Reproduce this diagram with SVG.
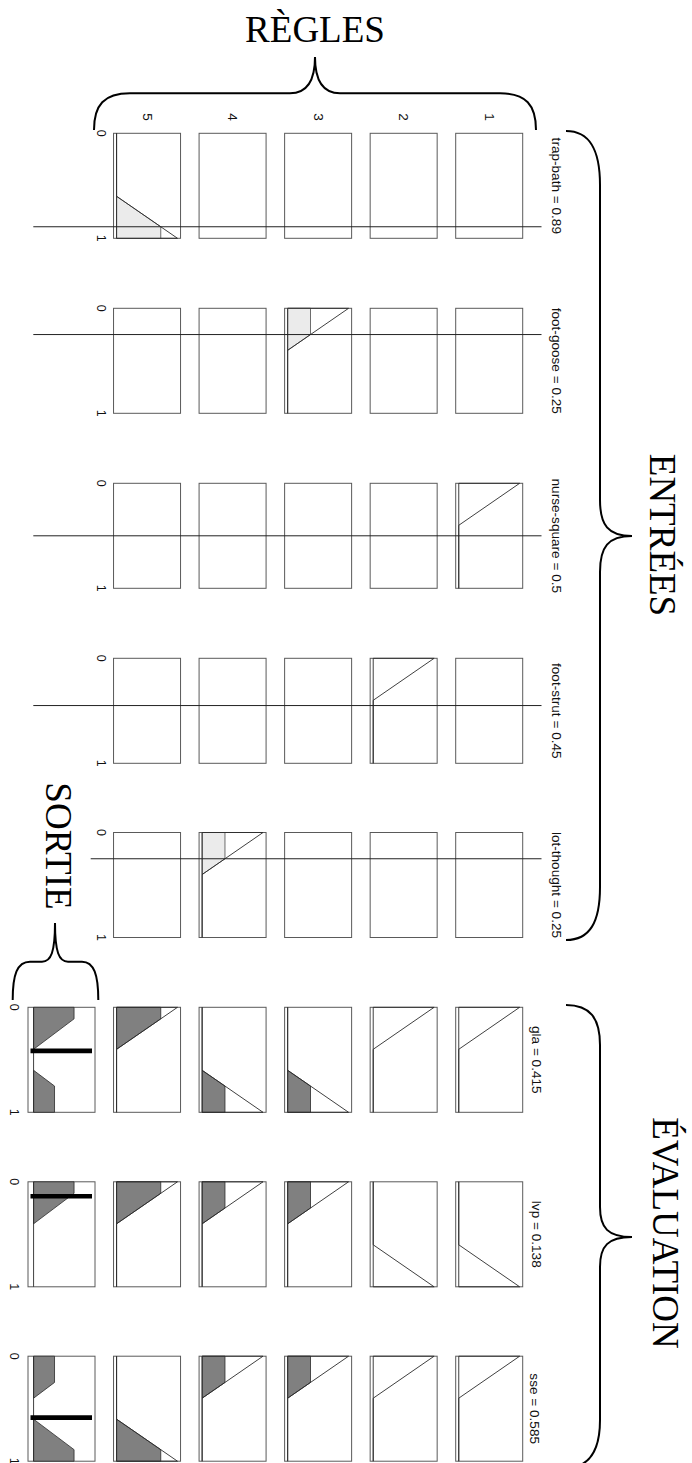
<svg xmlns="http://www.w3.org/2000/svg" width="692" height="1463" viewBox="0 0 692 1463">
<style>
.bg{fill:#fff}
.box{fill:#fff;stroke:#5a5a5a;stroke-width:1}
.mf{fill:none;stroke:#2a2a2a;stroke-width:0.9;stroke-linejoin:miter}
.fin{fill:#ebebeb;stroke:#4a4a4a;stroke-width:0.8}
.fout{fill:#808080;stroke:#2a2a2a;stroke-width:0.8}
.inl{stroke:#222;stroke-width:1;fill:none}
.bar{stroke:#000;stroke-width:4.6;fill:none}
.brace{fill:none;stroke:#000;stroke-width:2}
.lbl{font-family:"Liberation Sans",Arial,sans-serif;font-size:13.6px;fill:#111;text-anchor:middle;dominant-baseline:central}
.tick{font-family:"Liberation Sans",Arial,sans-serif;font-size:12.5px;fill:#111;text-anchor:middle;dominant-baseline:central}
.title{font-family:"Liberation Serif","Times New Roman",serif;font-size:37px;fill:#000;text-anchor:middle}
.rtitle{font-family:"Liberation Serif","Times New Roman",serif;font-size:37px;fill:#000;text-anchor:middle;dominant-baseline:central}
</style>
<rect class="bg" x="0" y="0" width="692" height="1463"/>

<!-- Titles and braces -->
<g id="titles">
  <text class="title" x="315" y="41.7">RÈGLES</text>
  <text class="rtitle" transform="rotate(90 662 535)" x="662" y="535">ENTRÉES</text>
  <text class="rtitle" transform="rotate(90 665 1233)" x="665" y="1233">ÉVALUATION</text>
  <text class="rtitle" transform="rotate(90 58 846)" x="58" y="846">SORTIE</text>
</g>
<g id="braces">
  <path class="brace" d="M94,130 C94,105 104,93.3 130,93.3 L290,93.3 C306,93.3 315,83 315,57 C315,83 324,93.3 340,93.3 L500,93.3 C526,93.3 536,105 536,130"/>
  <path class="brace" d="M566,131 C590,131 600,150 600,185 L600,500 C600,525 608,536 632,536 C608,536 600,547 600,572 L600,887 C600,922 590,940 566,940"/>
  <path class="brace" d="M566,1005 C590,1005 600,1018 600,1045 L600,1207 C600,1228 608,1237 632,1237 C608,1237 600,1246 600,1267 L600,1420 C600,1446 592,1461 578,1466"/>
  <path class="brace" d="M12.7,1000 C12.7,975 17,961.7 30,961.7 L42,961.7 C51,961.7 55,952 55,923 C55,952 59,961.7 68,961.7 L82,961.7 C94,961.7 98.3,975 98.3,1000"/>
</g>

<!-- Rule numbers -->
<g id="rule-numbers">
  <text class="lbl" transform="rotate(90 147.04 117)" x="147.04" y="117">5</text>
  <text class="lbl" transform="rotate(90 232.58 117)" x="232.58" y="117">4</text>
  <text class="lbl" transform="rotate(90 318.12 117)" x="318.12" y="117">3</text>
  <text class="lbl" transform="rotate(90 403.66 117)" x="403.66" y="117">2</text>
  <text class="lbl" transform="rotate(90 489.2 117)" x="489.2" y="117">1</text>
</g>

<!-- Input 1: trap-bath -->
<g id="input-trap-bath">
  <rect class="box" x="113.54" y="133.3" width="67" height="105"/>
  <rect class="box" x="199.08" y="133.3" width="67" height="105"/>
  <rect class="box" x="284.62" y="133.3" width="67" height="105"/>
  <rect class="box" x="370.16" y="133.3" width="67" height="105"/>
  <rect class="box" x="455.7" y="133.3" width="67" height="105"/>
  <polygon class="fin" points="116.59,196.3 160.75,226.75 160.75,238.3 116.59,238.3"/>
  <polygon class="mf" points="116.59,133.3 116.59,196.3 177.49,238.3 116.59,238.3"/>
  <text class="tick" transform="rotate(90 101 133.3)" x="101" y="133.3">0</text>
  <text class="tick" transform="rotate(90 101 238.3)" x="101" y="238.3">1</text>
  <text class="lbl" transform="rotate(90 556 185.8)" x="556" y="185.8">trap-bath = 0.89</text>
</g>

<!-- Input 2: foot-goose -->
<g id="input-foot-goose">
  <rect class="box" x="113.54" y="308.3" width="67" height="105"/>
  <rect class="box" x="199.08" y="308.3" width="67" height="105"/>
  <rect class="box" x="284.62" y="308.3" width="67" height="105"/>
  <rect class="box" x="370.16" y="308.3" width="67" height="105"/>
  <rect class="box" x="455.7" y="308.3" width="67" height="105"/>
  <polygon class="fin" points="287.67,308.3 310.51,308.3 310.51,334.55 287.67,350.3"/>
  <polygon class="mf" points="287.67,308.3 348.57,308.3 287.67,350.3 287.67,413.3"/>
  <text class="tick" transform="rotate(90 101 308.3)" x="101" y="308.3">0</text>
  <text class="tick" transform="rotate(90 101 413.3)" x="101" y="413.3">1</text>
  <text class="lbl" transform="rotate(90 556 360.8)" x="556" y="360.8">foot-goose = 0.25</text>
</g>

<!-- Input 3: nurse-square -->
<g id="input-nurse-square">
  <rect class="box" x="113.54" y="483.3" width="67" height="105"/>
  <rect class="box" x="199.08" y="483.3" width="67" height="105"/>
  <rect class="box" x="284.62" y="483.3" width="67" height="105"/>
  <rect class="box" x="370.16" y="483.3" width="67" height="105"/>
  <rect class="box" x="455.7" y="483.3" width="67" height="105"/>
  <polygon class="mf" points="458.75,483.3 519.65,483.3 458.75,525.3 458.75,588.3"/>
  <text class="tick" transform="rotate(90 101 483.3)" x="101" y="483.3">0</text>
  <text class="tick" transform="rotate(90 101 588.3)" x="101" y="588.3">1</text>
  <text class="lbl" transform="rotate(90 556 535.8)" x="556" y="535.8">nurse-square = 0.5</text>
</g>

<!-- Input 4: foot-strut -->
<g id="input-foot-strut">
  <rect class="box" x="113.54" y="658.3" width="67" height="105"/>
  <rect class="box" x="199.08" y="658.3" width="67" height="105"/>
  <rect class="box" x="284.62" y="658.3" width="67" height="105"/>
  <rect class="box" x="370.16" y="658.3" width="67" height="105"/>
  <rect class="box" x="455.7" y="658.3" width="67" height="105"/>
  <polygon class="mf" points="373.21,658.3 434.11,658.3 373.21,700.3 373.21,763.3"/>
  <text class="tick" transform="rotate(90 101 658.3)" x="101" y="658.3">0</text>
  <text class="tick" transform="rotate(90 101 763.3)" x="101" y="763.3">1</text>
  <text class="lbl" transform="rotate(90 556 710.8)" x="556" y="710.8">foot-strut = 0.45</text>
</g>

<!-- Input 5: lot-thought -->
<g id="input-lot-thought">
  <rect class="box" x="113.54" y="832.5" width="67" height="105"/>
  <rect class="box" x="199.08" y="832.5" width="67" height="105"/>
  <rect class="box" x="284.62" y="832.5" width="67" height="105"/>
  <rect class="box" x="370.16" y="832.5" width="67" height="105"/>
  <rect class="box" x="455.7" y="832.5" width="67" height="105"/>
  <polygon class="fin" points="202.13,832.5 224.97,832.5 224.97,858.75 202.13,874.5"/>
  <polygon class="mf" points="202.13,832.5 263.03,832.5 202.13,874.5 202.13,937.5"/>
  <text class="tick" transform="rotate(90 101 832.5)" x="101" y="832.5">0</text>
  <text class="tick" transform="rotate(90 101 937.5)" x="101" y="937.5">1</text>
  <text class="lbl" transform="rotate(90 556 885)" x="556" y="885">lot-thought = 0.25</text>
</g>

<!-- Output 1: gla -->
<g id="output-gla">
  <rect class="box" x="28" y="1007.3" width="67" height="105"/>
  <rect class="box" x="113.54" y="1007.3" width="67" height="105"/>
  <rect class="box" x="199.08" y="1007.3" width="67" height="105"/>
  <rect class="box" x="284.62" y="1007.3" width="67" height="105"/>
  <rect class="box" x="370.16" y="1007.3" width="67" height="105"/>
  <rect class="box" x="455.7" y="1007.3" width="67" height="105"/>
  <polygon class="fout" points="33.58,1007.3 74.06,1007.3 74.06,1018.85 33.58,1049.3"/>
  <polygon class="fout" points="33.58,1070.3 54.52,1086.05 54.52,1112.3 33.58,1112.3"/>
  <line class="mf" x1="33.58" y1="1007.3" x2="33.58" y2="1112.3"/>
  <polygon class="fout" points="116.59,1007.3 160.75,1007.3 160.75,1018.85 116.59,1049.3"/>
  <polygon class="mf" points="116.59,1007.3 177.49,1007.3 116.59,1049.3 116.59,1112.3"/>
  <polygon class="fout" points="202.13,1070.3 224.97,1086.05 224.97,1112.3 202.13,1112.3"/>
  <polygon class="mf" points="202.13,1007.3 202.13,1070.3 263.03,1112.3 202.13,1112.3"/>
  <polygon class="fout" points="287.67,1070.3 310.51,1086.05 310.51,1112.3 287.67,1112.3"/>
  <polygon class="mf" points="287.67,1007.3 287.67,1070.3 348.57,1112.3 287.67,1112.3"/>
  <polygon class="mf" points="373.21,1007.3 434.11,1007.3 373.21,1049.3 373.21,1112.3"/>
  <polygon class="mf" points="458.75,1007.3 519.65,1007.3 458.75,1049.3 458.75,1112.3"/>
  <line class="bar" x1="30.5" y1="1050.88" x2="92" y2="1050.88"/>
  <text class="tick" transform="rotate(90 14 1007.3)" x="14" y="1007.3">0</text>
  <text class="tick" transform="rotate(90 14 1112.3)" x="14" y="1112.3">1</text>
  <text class="lbl" transform="rotate(90 536 1059.8)" x="536" y="1059.8">gla = 0.415</text>
</g>

<!-- Output 2: lvp -->
<g id="output-lvp">
  <rect class="box" x="28" y="1181.8" width="67" height="105"/>
  <rect class="box" x="113.54" y="1181.8" width="67" height="105"/>
  <rect class="box" x="199.08" y="1181.8" width="67" height="105"/>
  <rect class="box" x="284.62" y="1181.8" width="67" height="105"/>
  <rect class="box" x="370.16" y="1181.8" width="67" height="105"/>
  <rect class="box" x="455.7" y="1181.8" width="67" height="105"/>
  <polygon class="fout" points="33.58,1181.8 74.06,1181.8 74.06,1193.35 33.58,1223.8"/>
  <line class="mf" x1="33.58" y1="1181.8" x2="33.58" y2="1286.8"/>
  <polygon class="fout" points="116.59,1181.8 160.75,1181.8 160.75,1193.35 116.59,1223.8"/>
  <polygon class="mf" points="116.59,1181.8 177.49,1181.8 116.59,1223.8 116.59,1286.8"/>
  <polygon class="fout" points="202.13,1181.8 224.97,1181.8 224.97,1208.05 202.13,1223.8"/>
  <polygon class="mf" points="202.13,1181.8 263.03,1181.8 202.13,1223.8 202.13,1286.8"/>
  <polygon class="fout" points="287.67,1181.8 310.51,1181.8 310.51,1208.05 287.67,1223.8"/>
  <polygon class="mf" points="287.67,1181.8 348.57,1181.8 287.67,1223.8 287.67,1286.8"/>
  <polygon class="mf" points="373.21,1181.8 373.21,1244.8 434.11,1286.8 373.21,1286.8"/>
  <polygon class="mf" points="458.75,1181.8 458.75,1244.8 519.65,1286.8 458.75,1286.8"/>
  <line class="bar" x1="30.5" y1="1196.29" x2="92" y2="1196.29"/>
  <text class="tick" transform="rotate(90 14 1181.8)" x="14" y="1181.8">0</text>
  <text class="tick" transform="rotate(90 14 1286.8)" x="14" y="1286.8">1</text>
  <text class="lbl" transform="rotate(90 536 1234.3)" x="536" y="1234.3">lvp = 0.138</text>
</g>

<!-- Output 3: sse -->
<g id="output-sse">
  <rect class="box" x="28" y="1356.2" width="67" height="105"/>
  <rect class="box" x="113.54" y="1356.2" width="67" height="105"/>
  <rect class="box" x="199.08" y="1356.2" width="67" height="105"/>
  <rect class="box" x="284.62" y="1356.2" width="67" height="105"/>
  <rect class="box" x="370.16" y="1356.2" width="67" height="105"/>
  <rect class="box" x="455.7" y="1356.2" width="67" height="105"/>
  <polygon class="fout" points="33.58,1356.2 54.52,1356.2 54.52,1382.45 33.58,1398.2"/>
  <polygon class="fout" points="33.58,1419.2 74.06,1449.65 74.06,1461.2 33.58,1461.2"/>
  <line class="mf" x1="33.58" y1="1356.2" x2="33.58" y2="1461.2"/>
  <polygon class="fout" points="116.59,1419.2 160.75,1449.65 160.75,1461.2 116.59,1461.2"/>
  <polygon class="mf" points="116.59,1356.2 116.59,1419.2 177.49,1461.2 116.59,1461.2"/>
  <polygon class="fout" points="202.13,1356.2 224.97,1356.2 224.97,1382.45 202.13,1398.2"/>
  <polygon class="mf" points="202.13,1356.2 263.03,1356.2 202.13,1398.2 202.13,1461.2"/>
  <polygon class="fout" points="287.67,1356.2 310.51,1356.2 310.51,1382.45 287.67,1398.2"/>
  <polygon class="mf" points="287.67,1356.2 348.57,1356.2 287.67,1398.2 287.67,1461.2"/>
  <polygon class="mf" points="373.21,1356.2 434.11,1356.2 373.21,1398.2 373.21,1461.2"/>
  <polygon class="mf" points="458.75,1356.2 519.65,1356.2 458.75,1398.2 458.75,1461.2"/>
  <line class="bar" x1="30.5" y1="1417.63" x2="92" y2="1417.63"/>
  <text class="tick" transform="rotate(90 14 1356.2)" x="14" y="1356.2">0</text>
  <text class="tick" transform="rotate(90 14 1461.2)" x="14" y="1461.2">1</text>
  <text class="lbl" transform="rotate(90 534 1408.7)" x="534" y="1408.7">sse = 0.585</text>
</g>

<!-- Input value lines -->
<g id="connectors">
  <line class="inl" x1="33.3" y1="226.75" x2="541.5" y2="226.75"/>
  <line class="inl" x1="33.3" y1="334.55" x2="541.5" y2="334.55"/>
  <line class="inl" x1="33.3" y1="535.8" x2="541.5" y2="535.8"/>
  <line class="inl" x1="33.3" y1="705.55" x2="541.5" y2="705.55"/>
  <line class="inl" x1="90.7" y1="858.75" x2="541.5" y2="858.75"/>
</g>
</svg>
